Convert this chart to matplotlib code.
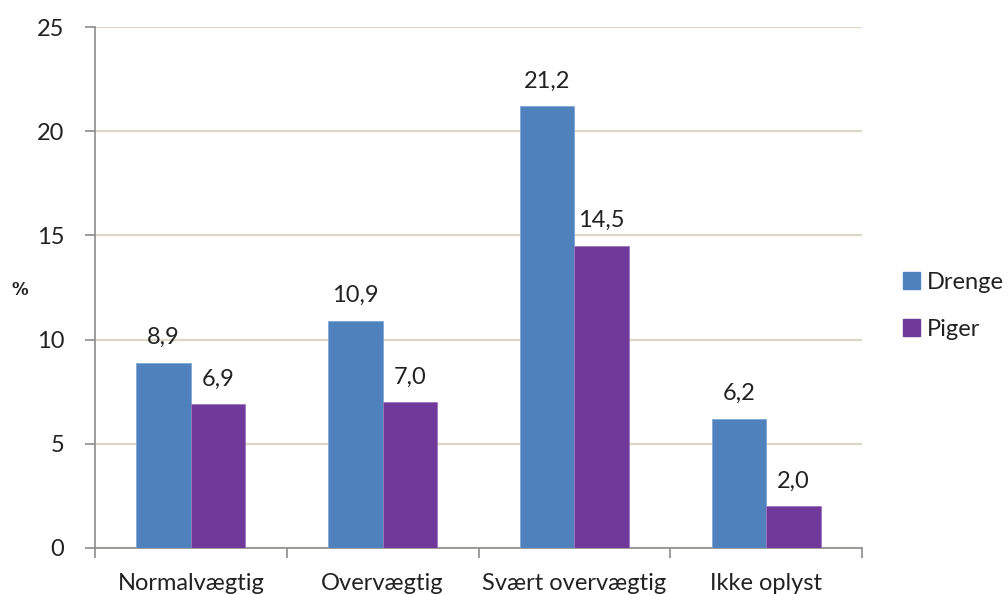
import numpy as np
import matplotlib
matplotlib.use("Agg")
import matplotlib.pyplot as plt
from matplotlib.patches import Patch

plt.rcParams["font.family"] = ["Lato", "DejaVu Sans"]

categories = ["Normalvægtig", "Overvægtig", "Svært overvægtig", "Ikke oplyst"]
drenge = [8.9, 10.9, 21.2, 6.2]
piger = [6.9, 7.0, 14.5, 2.0]
series_names = ["Drenge", "Piger"]
C = {"blue": "#4F81BD", "purple": "#70399A", "grid": "#DCD8C3", "axis": "#8C8C8C", "ink": "#222222"}

fig = plt.figure(figsize=(10.08, 5.94), dpi=100)
ax = fig.add_axes([95/1008, 1-548/594, 767/1008, 521/594])

x = np.arange(len(categories))
w = 0.284
b1 = ax.bar(x - w/2, drenge, w, color=C["blue"], edgecolor="#7FA6D6", linewidth=0.6, zorder=3)
b2 = ax.bar(x + w/2, piger, w, color=C["purple"], edgecolor="#9A78BE", linewidth=0.6, zorder=3)

def fmt(v): return f"{v:.1f}".replace(".", ",")
for bars, vals in [(b1, drenge), (b2, piger)]:
    for r, v in zip(bars, vals):
        ax.annotate(fmt(v), (r.get_x() + r.get_width()/2, v), xytext=(0, 13.5),
                    textcoords="offset points", ha="center", va="baseline",
                    fontsize=17, color=C["ink"])

ax.set_xlim(-0.5, len(categories) - 0.5)
ax.set_ylim(0, 25)
ax.set_yticks(np.arange(0, 26, 5))
ax.yaxis.grid(True, color=C["grid"], lw=1.6, zorder=0)
ax.set_axisbelow(True)
for s in ["top", "right"]:
    ax.spines[s].set_visible(False)
for s in ["left", "bottom"]:
    ax.spines[s].set_color(C["axis"])
    ax.spines[s].set_linewidth(1.2)

ax.set_xticks(x)
ax.set_xticklabels(categories)
ax.set_xticks(np.arange(-0.5, len(categories)), minor=True)
ax.tick_params(axis="x", which="major", length=0, pad=18, labelsize=17, labelcolor=C["ink"])
ax.tick_params(axis="x", which="minor", length=7, width=1.2, color=C["axis"])
ax.tick_params(axis="y", length=7, width=1.2, color=C["axis"], pad=15, labelsize=17, labelcolor=C["ink"])

fig.text(20/1008, 1-290/594, "%", fontsize=12, fontweight="bold", family="DejaVu Sans",
         ha="center", va="center", color=C["ink"])

handles = [Patch(color=C["blue"]), Patch(color=C["purple"])]
fig.legend(handles, series_names, loc="center left", bbox_to_anchor=(882/1008, 1-306/594),
           frameon=False, fontsize=17, handlelength=0.7, handleheight=0.7,
           handletextpad=0.3, labelspacing=1.1, labelcolor=C["ink"])

fig.savefig("out.png", dpi=100)
